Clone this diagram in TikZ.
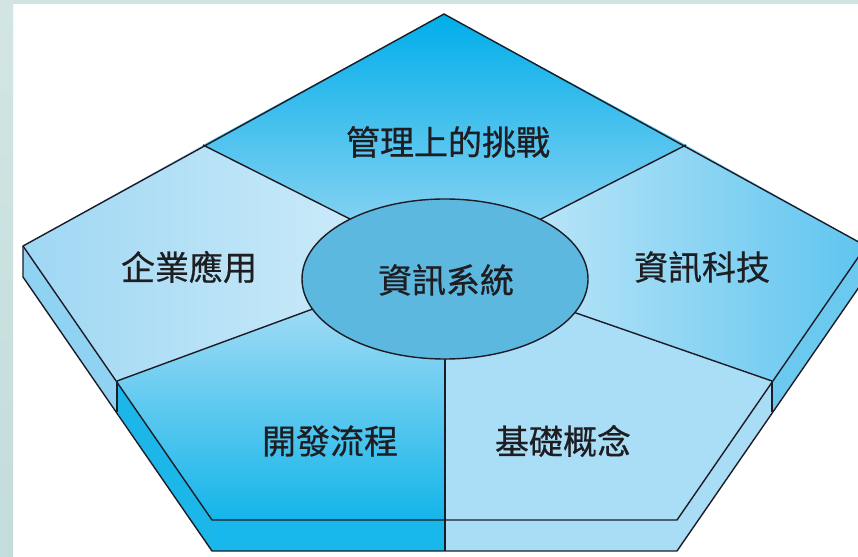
\documentclass[tikz,border=0pt]{standalone}
\usepackage{fontspec}
\newfontfamily\cjk[FakeBold=0.6]{Noto Sans CJK TC}
\usetikzlibrary{calc,shapes.geometric}
\definecolor{bandA}{HTML}{D2E5E4}
\definecolor{bandB}{HTML}{C3DCDC}
\definecolor{bandC}{HTML}{D0E4E2}
\definecolor{lineC}{HTML}{1B1C26}
\definecolor{txtC}{HTML}{1E1E22}
\definecolor{topA}{HTML}{00AEEA}
\definecolor{topB}{HTML}{A8DBF4}
\definecolor{leftA}{HTML}{9FD7F3}
\definecolor{leftB}{HTML}{D6EFFB}
\definecolor{rightA}{HTML}{D2EDFA}
\definecolor{rightB}{HTML}{5EC5EF}
\definecolor{blA}{HTML}{B2E0F6}
\definecolor{blB}{HTML}{14B5EA}
\definecolor{brC}{HTML}{AADDF6}
\definecolor{ellC}{HTML}{5DB8DF}
\definecolor{sideL1}{HTML}{90D2F1}
\definecolor{sideL2}{HTML}{1DB6E9}
\definecolor{sideB1}{HTML}{18B8EC}
\definecolor{sideB2}{HTML}{A9DCF5}
\definecolor{sideR1}{HTML}{A9DCF5}
\definecolor{sideR2}{HTML}{6BC8EF}
\tikzset{
  edge/.style={draw=lineC, line width=1.4pt, line join=round},
  lbl/.style={font=\cjk\fontsize{34}{40}\selectfont, text=txtC, inner sep=0pt},
  core/.style={ellipse, draw=lineC, line width=1.4pt, fill=ellC, minimum width=286pt, minimum height=160pt, inner sep=0pt}
}
\begin{document}
\begin{tikzpicture}[x=1pt,y=-1pt]
\useasboundingbox (0,0) rectangle (858,556);
\clip (0,0) rectangle (858,556);
\fill[white] (0,0) rectangle (858,556);
\shade[top color=bandA,bottom color=bandB] (0,0) rectangle (13,556);
\fill[bandC] (13,0) rectangle (858,4);

% top surface corners
\coordinate (A) at (444,14);
\coordinate (B) at (23,246);
\coordinate (C) at (212,520);
\coordinate (D) at (677,520);
\coordinate (E) at (866,246);
\coordinate (O) at (445,279);
% separator ends on the rim
\coordinate (P1) at (203,145);
\coordinate (P2) at (686,145);
\coordinate (P3) at (117,381);
\coordinate (P4) at (772,381);
\coordinate (P5) at (445,520);
% separator ends on the ellipse
\coordinate (Q1) at (348,218);
\coordinate (Q2) at (541,219);
\coordinate (Q3) at (310,310);
\coordinate (Q4) at (576,313);
\coordinate (Q5) at (445,359);
\foreach \i in {1,...,5}{\coordinate (X\i) at ($(P\i)!1.2!(Q\i)$);}
% lower corners of the side faces
\coordinate (Bd) at ($(B)+(0,31)$);
\coordinate (Cd) at ($(C)+(0,31)$);
\coordinate (Dd) at ($(D)+(0,31)$);
\coordinate (Ed) at ($(E)+(0,31)$);
\coordinate (P3d) at ($(P3)+(0,31)$);
\coordinate (P4d) at ($(P4)+(0,31)$);
\coordinate (P5d) at ($(P5)+(0,31)$);

% side faces
\fill[sideL1] (B) -- (P3) -- (P3d) -- (Bd) -- cycle;
\fill[sideL2] (P3) -- (C) -- (Cd) -- (P3d) -- cycle;
\fill[sideB1] (C) -- (P5) -- (P5d) -- (Cd) -- cycle;
\fill[sideB2] (P5) -- (D) -- (Dd) -- (P5d) -- cycle;
\fill[sideR1] (D) -- (P4) -- (P4d) -- (Dd) -- cycle;
\fill[sideR2] (P4) -- (E) -- (Ed) -- (P4d) -- cycle;

% top surface sections
\shade[top color=topA, bottom color=topB] (P1) -- (A) -- (P2) -- (X2) -- (O) -- (X1) -- cycle;
\shade[left color=leftA, right color=leftB] (P1) -- (B) -- (P3) -- (X3) -- (O) -- (X1) -- cycle;
\shade[top color=blA, bottom color=blB] (P3) -- (C) -- (P5) -- (X5) -- (O) -- (X3) -- cycle;
\fill[brC] (P5) -- (D) -- (P4) -- (X4) -- (O) -- (X5) -- cycle;
\shade[left color=rightA, right color=rightB] (P4) -- (E) -- (P2) -- (X2) -- (O) -- (X4) -- cycle;

% outlines
\draw[edge] (A) -- (B) -- (Bd) -- (Cd) -- (Dd) -- (Ed) -- (E) -- cycle;
\draw[edge] (B) -- (C) -- (D) -- (E);
\draw[edge] (P3) -- (P3d);
\draw[edge] (P4) -- (P4d);
\draw[edge] (P5) -- (P5d);
\foreach \i in {1,...,5}{\draw[edge] (P\i) -- (X\i);}

% centre
\node[core] (core) at (O) {};
\node[lbl] (tcore) at (446,280) {資訊系統};
\node[lbl] (ttop) at (448,142) {管理上的挑戰};
\node[lbl] (tleft) at (189,267) {企業應用};
\node[lbl] (tright) at (702,267) {資訊科技};
\node[lbl] (tbl) at (330,441) {開發流程};
\node[lbl] (tbr) at (563,441) {基礎概念};
\end{tikzpicture}
\end{document}
